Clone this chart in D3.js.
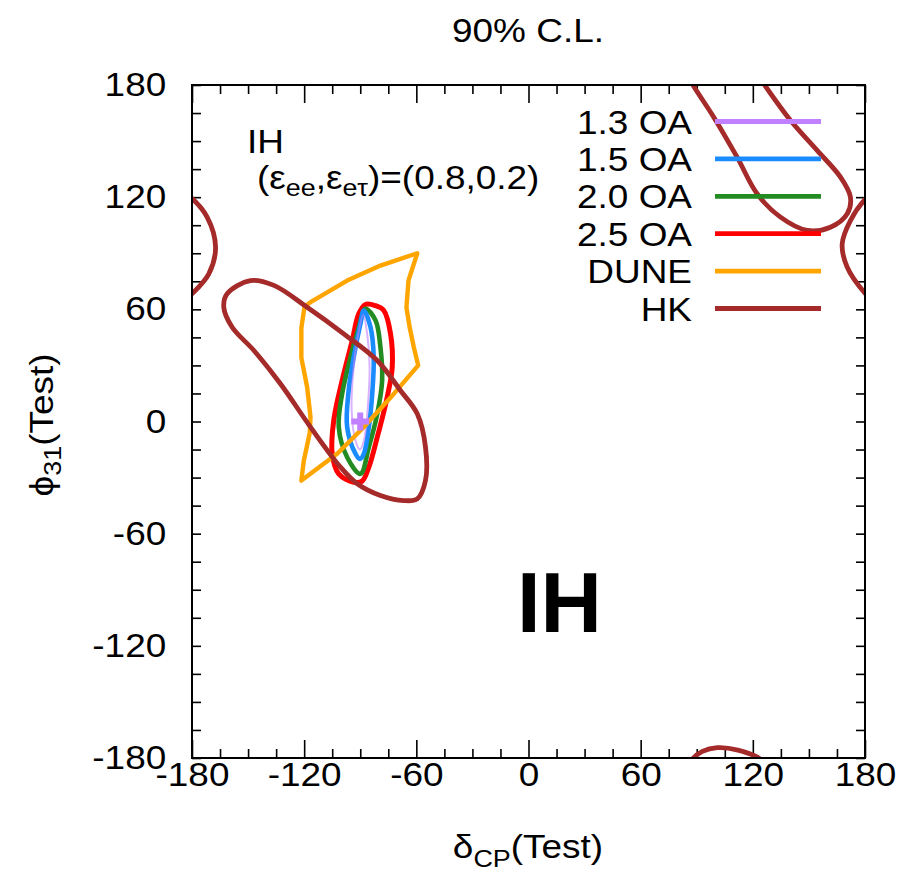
<!DOCTYPE html>
<html><head><meta charset="utf-8">
<script src="https://cdn.jsdelivr.net/npm/d3@7"></script>
<style>body{margin:0;background:#fff}</style>
</head><body><svg id="c" width="907" height="875"></svg>
<script>
// ---------- data ----------
const xTickValues = [-180, -120, -60, 0, 60, 120, 180];
const yTickValues = [-180, -120, -60, 0, 60, 120, 180];
const minorTickValues = [-165,-150,-135,-105,-90,-75,-45,-30,-15,15,30,45,75,90,105,135,150,165];

const legendLabels = ["1.3 OA", "1.5 OA", "2.0 OA", "2.5 OA", "DUNE", "HK"];
const legendColors = ["#c080ff", "#1a8cff", "#228b22", "#ff0000", "#ffa500", "#a52a2a"];

const truePoint = [-90, 0];

const oa13 = [[-88.4,57],[-86.2,46],[-85,30],[-85.8,10],[-88,-10],[-90.2,-15],[-92.6,-10],[-94.6,6],[-93.8,26],[-91.2,46]];
const oa15 = [[-88.1,59.4],[-84.5,50.4],[-82.8,34.4],[-83.6,14.8],[-85.4,-3],[-88.1,-17.3],[-90.2,-20],[-92.5,-17.3],[-97,-3],[-96.2,16.6],[-93.5,34.4],[-89.9,52.3]];
const oa20 = [[-87.2,60.3],[-81.8,54],[-79.2,39.7],[-78.3,21.9],[-80.9,4.1],[-85.4,-13.7],[-89.9,-28],[-97,-19.1],[-101.5,-3],[-99.7,14.8],[-95.2,34.4],[-90.8,50.4]];
const oa25 = [[-87.2,62.6],[-82,62],[-77.4,59.4],[-73.8,46.9],[-72.9,29],[-75.6,13],[-80.9,-8.4],[-85.4,-24.4],[-89,-31.9],[-93.5,-32.5],[-101.5,-28],[-105,-17.3],[-104.2,0.5],[-99.7,21.9],[-94.3,43.3],[-90.8,57.6]];
const dune = [[-59.5,90],[-64.2,75.4],[-65.3,61],[-63.5,50],[-61.4,40],[-59,30],[-73.8,12.8],[-88.3,-3.2],[-102.2,-17.1],[-121.5,-31.6],[-120.2,-21],[-117,-6],[-116.6,2.3],[-118.4,18.3],[-121.5,34],[-121.5,50],[-119.8,61.5],[-116.6,63.8],[-97,75.4],[-79.2,83.4]];
const hkMain = [[-163,61.1],[-161.2,68.3],[-148.7,75.4],[-136.2,72.8],[-118.4,61.1],[-98.8,46.9],[-80.9,32.6],[-68.5,16.6],[-59.5,4.1],[-55.1,-13.7],[-55.1,-31.6],[-59.5,-41.4],[-66.7,-42.3],[-79.2,-39.6],[-91.6,-33.3],[-100.6,-24.4],[-116.6,-3],[-132.7,20.2],[-146.9,38],[-158.5,50.4]];
const hkTopLobe = [[86,184],[87.6,180.6],[99.1,162.8],[111.6,141.4],[122.3,121.8],[134.8,109.3],[149.1,102.2],[161.5,103.9],[170.5,111.1],[172.2,120],[166.9,130.7],[154.4,145],[140.2,161],[125.9,180.6],[123,185]];
const hkBottomArc = [[86,-183],[87.6,-180.6],[93,-176.5],[101,-174.5],[112,-175.8],[124,-180.6],[126,-183]];
const hkLeftEdge = [[-184,122],[-180.8,120],[-171.9,109.3],[-167.4,93.2],[-171,79],[-180,68.3],[-184,65]];
const hkRightEdge = [[184,122],[180.3,119.1],[172.2,107.5],[167.8,95],[170.5,82.5],[180.3,68.3],[184,65]];

// ---------- layout ----------
const svg = d3.select("#c");
const L = 192, R = 865, T = 85, B = 758;
const x = d3.scaleLinear([-180, 180], [L, R]);
const y = d3.scaleLinear([-180, 180], [B, T]);
const FONT = "'Liberation Sans', Arial, sans-serif";
const SX = 1.12;
const fmt = d => String(d);

svg.append("defs").append("clipPath").attr("id", "clip")
  .append("rect").attr("x", L).attr("y", T).attr("width", R - L).attr("height", B - T);

// ---------- axes ----------
function styleAxis(g) {
  g.select(".domain").remove();
  g.selectAll("line").attr("stroke", "#000").attr("stroke-width", 1.6);
  g.selectAll("text").attr("font-family", FONT).attr("font-size", 33).attr("fill", "#000");
}
svg.append("g").attr("transform", `translate(0,${B})`)
  .call(d3.axisBottom(x).tickValues(xTickValues).tickSize(-18).tickSizeOuter(0).tickPadding(5).tickFormat(fmt))
  .call(styleAxis)
  .call(g => g.selectAll("text").attr("transform", `scale(${SX},1)`));
svg.append("g").attr("transform", `translate(0,${B})`)
  .call(d3.axisBottom(x).tickValues(minorTickValues).tickSize(-9).tickSizeOuter(0).tickFormat(""))
  .call(styleAxis);
svg.append("g").attr("transform", `translate(0,${T})`)
  .call(d3.axisTop(x).tickValues(xTickValues).tickSize(-18).tickSizeOuter(0).tickFormat(""))
  .call(styleAxis);
svg.append("g").attr("transform", `translate(0,${T})`)
  .call(d3.axisTop(x).tickValues(minorTickValues).tickSize(-9).tickSizeOuter(0).tickFormat(""))
  .call(styleAxis);
svg.append("g").attr("transform", `translate(${L},0)`)
  .call(d3.axisLeft(y).tickValues(yTickValues).tickSize(-9).tickSizeOuter(0).tickPadding(23).tickFormat(fmt))
  .call(styleAxis)
  .call(g => g.selectAll("text").attr("transform", `scale(${SX},1)`));
svg.append("g").attr("transform", `translate(${L},0)`)
  .call(d3.axisLeft(y).tickValues(minorTickValues).tickSize(-9).tickSizeOuter(0).tickFormat(""))
  .call(styleAxis);
svg.append("g").attr("transform", `translate(${R},0)`)
  .call(d3.axisRight(y).tickValues(yTickValues.concat(minorTickValues)).tickSize(-9).tickSizeOuter(0).tickFormat(""))
  .call(styleAxis);

// ---------- contours ----------
const plot = svg.append("g").attr("clip-path", "url(#clip)");
const closedSmooth = d3.line().x(d => x(d[0])).y(d => y(d[1])).curve(d3.curveCatmullRomClosed.alpha(0.5));
const closedLinear = d3.line().x(d => x(d[0])).y(d => y(d[1])).curve(d3.curveLinearClosed);
const openSmooth = d3.line().x(d => x(d[0])).y(d => y(d[1])).curve(d3.curveCatmullRom.alpha(0.5));

function draw(data, gen, color, w, op) {
  plot.append("path").attr("d", gen(data)).attr("fill", "none")
    .attr("stroke", color).attr("stroke-width", w).attr("stroke-linejoin", "round")
    .attr("stroke-opacity", op || 1);
}
draw(oa25, closedSmooth, legendColors[3], 5);
draw(oa20, closedSmooth, legendColors[2], 4.6);
draw(oa15, closedSmooth, legendColors[1], 4.6);
draw(oa13, closedSmooth, legendColors[0], 2, 0.6);
draw(dune, closedLinear, legendColors[4], 4.4);
draw(hkMain, closedSmooth, legendColors[5], 4.8);
draw(hkTopLobe, openSmooth, legendColors[5], 4.8);
draw(hkBottomArc, openSmooth, legendColors[5], 4.8);
draw(hkLeftEdge, openSmooth, legendColors[5], 4.8);
draw(hkRightEdge, openSmooth, legendColors[5], 4.8);

// true point marker
plot.append("path")
  .attr("d", d3.symbol(d3.symbolCross, 180)())
  .attr("transform", `translate(${x(truePoint[0])},${y(truePoint[1])})`)
  .attr("fill", legendColors[0]);

// frame
svg.append("rect").attr("x", L).attr("y", T).attr("width", R - L).attr("height", B - T)
  .attr("fill", "none").attr("stroke", "#000").attr("stroke-width", 2);

// ---------- texts ----------
function txt(xp, yp, anchor, size) {
  return svg.append("text").attr("transform", `translate(${xp},${yp}) scale(${SX},1)`)
    .attr("text-anchor", anchor).attr("font-family", FONT).attr("font-size", size).attr("fill", "#000");
}
txt(528, 42, "middle", 33).text("90% C.L.");

const xl = txt(528, 858, "middle", 33);
xl.append("tspan").text("δ");
xl.append("tspan").attr("font-size", 24).attr("dy", 9).text("CP");
xl.append("tspan").attr("dy", -9).text("(Test)");

const yl = svg.append("text").attr("transform", `translate(53,425) rotate(-90) scale(${SX},1)`)
  .attr("text-anchor", "middle").attr("font-family", FONT).attr("font-size", 33);
yl.append("tspan").text("ϕ");
yl.append("tspan").attr("font-size", 24).attr("dy", 8).text("31");
yl.append("tspan").attr("dy", -8).text("(Test)");

txt(247, 153, "start", 33).text("IH");
const eps = txt(257, 189, "start", 33);
eps.append("tspan").text("(ε");
eps.append("tspan").attr("font-size", 24).attr("dy", 7).text("ee");
eps.append("tspan").attr("dy", -7).text(",ε");
eps.append("tspan").attr("font-size", 24).attr("dy", 7).text("eτ");
eps.append("tspan").attr("dy", -7).text(")=(0.8,0.2)");

svg.append("text").attr("x", 517).attr("y", 632).attr("font-family", FONT)
  .attr("font-weight", "bold").attr("font-size", 85).text("IH");

// ---------- legend ----------
const legY = d3.scalePoint().domain(legendLabels).range([121.5, 308.5]);
legendLabels.forEach((lab, i) => {
  svg.append("line").attr("x1", 715).attr("x2", 821).attr("y1", legY(lab)).attr("y2", legY(lab))
    .attr("stroke", legendColors[i]).attr("stroke-width", 4.8);
  txt(692, legY(lab) + 12, "end", 33).text(lab);
});
</script></body></html>
